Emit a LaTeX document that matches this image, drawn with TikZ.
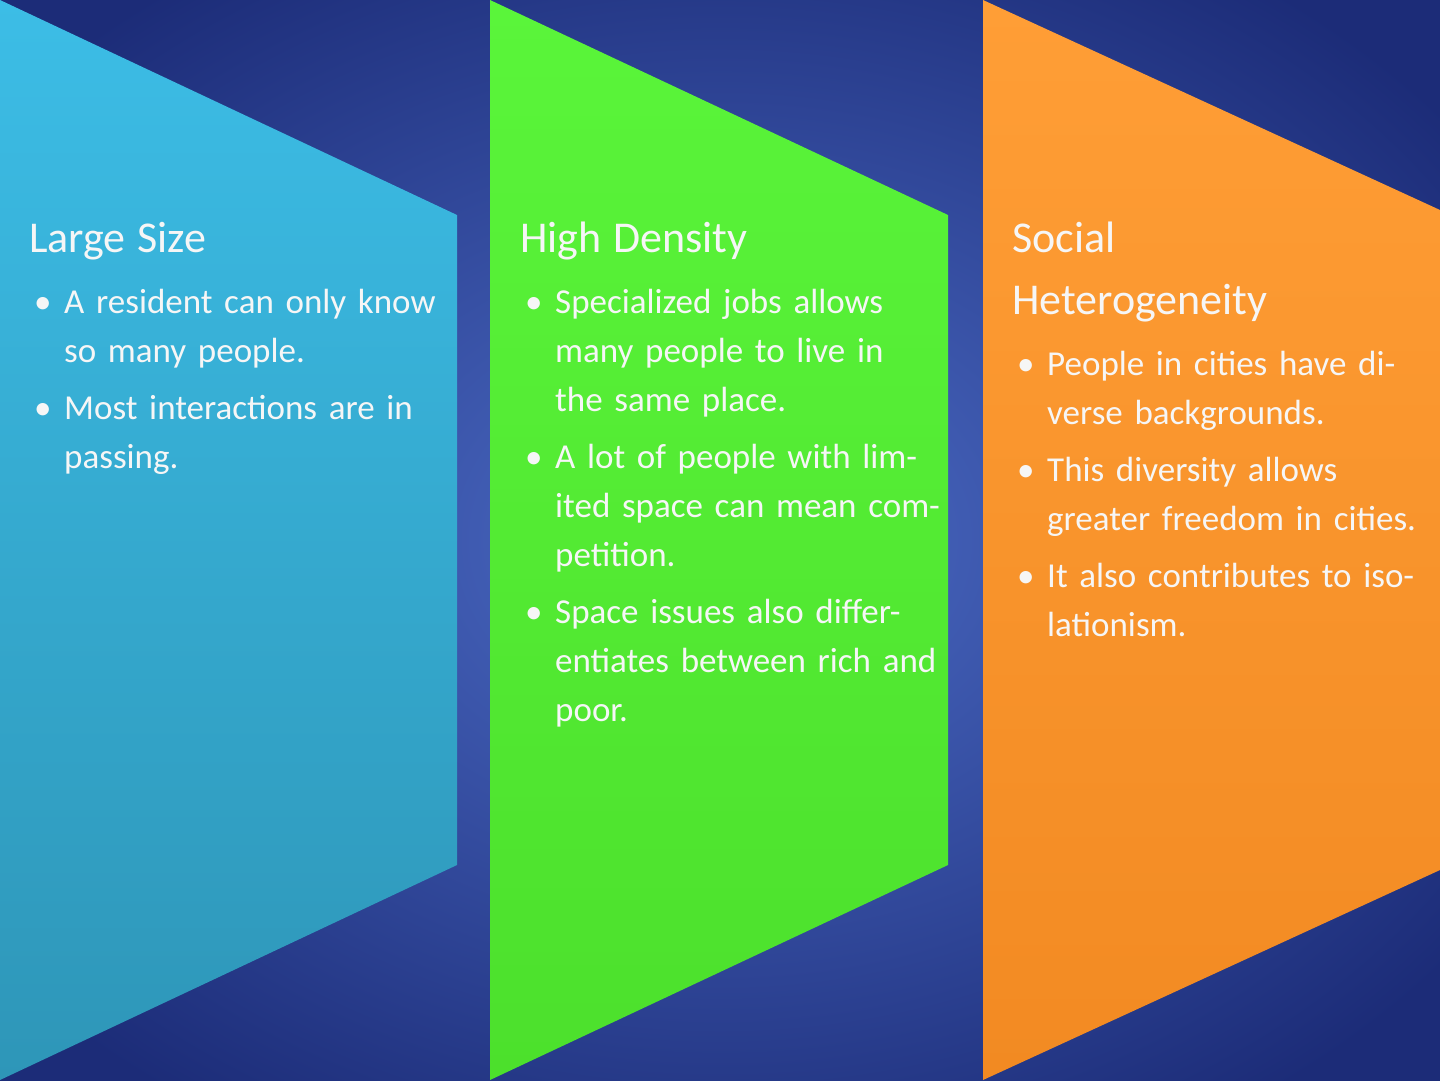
\documentclass[tikz,border=0pt]{standalone}
\usepackage{fontspec}
\setmainfont{Carlito}
\definecolor{bgin}{HTML}{4C6CC6}
\definecolor{bgout}{HTML}{1C2C78}
\definecolor{sizetop}{HTML}{3CBDE6}
\definecolor{sizebot}{HTML}{2E96B8}
\definecolor{denstop}{HTML}{5AF53A}
\definecolor{densbot}{HTML}{4CE02C}
\definecolor{hettop}{HTML}{FF9E36}
\definecolor{hetbot}{HTML}{F28A22}
\newcommand{\colhead}[1]{{\fontsize{44}{62}\selectfont #1\par}\vspace{12pt}}
\newcommand{\colitem}[1]{\leavevmode\hangindent=35pt\hangafter=1\hbox to 35pt{\hskip5pt\textbullet\hfil}#1\par\vspace{8pt}}
\tikzset{
  coltext/.style={anchor=north west,text width=#1,align=left,inner sep=0pt,
    text=white!93!gray,font=\fontsize{35}{49}\selectfont}
}
\begin{document}
\begin{tikzpicture}[x=1pt,y=-1pt]
  \useasboundingbox (0,0) rectangle (1440,1080);
  \shade[inner color=bgin,outer color=bgout] (-200,-150) rectangle (1640,1230);
  \shade[top color=sizetop,bottom color=sizebot]
    (0,0) -- (457,215) -- (457,865) -- (0,1080) -- cycle;
  \shade[top color=denstop,bottom color=densbot]
    (490,0) -- (948,215) -- (948,865) -- (490,1080) -- cycle;
  \shade[top color=hettop,bottom color=hetbot]
    (983,0) -- (1440,210) -- (1440,870) -- (983,1080) -- cycle;
  \node[coltext=415] (size) at (29,222) {\colhead{Large Size}
    \colitem{A resident can only know so many people.}
    \colitem{Most interactions are in passing.}};
  \node[coltext=420] (dens) at (520,222) {\colhead{High Density}
    \colitem{Specialized jobs allows many people to live in the same place.}
    \colitem{A lot of people with limited space can mean competition.}
    \colitem{Space issues also differentiates between rich and poor.}};
  \node[coltext=420] (het) at (1012,222) {\colhead{Social\\Heterogeneity}
    \colitem{People in cities have diverse backgrounds.}
    \colitem{This diversity allows greater freedom in cities.}
    \colitem{It also contributes to isolationism.}};
\end{tikzpicture}
\end{document}
